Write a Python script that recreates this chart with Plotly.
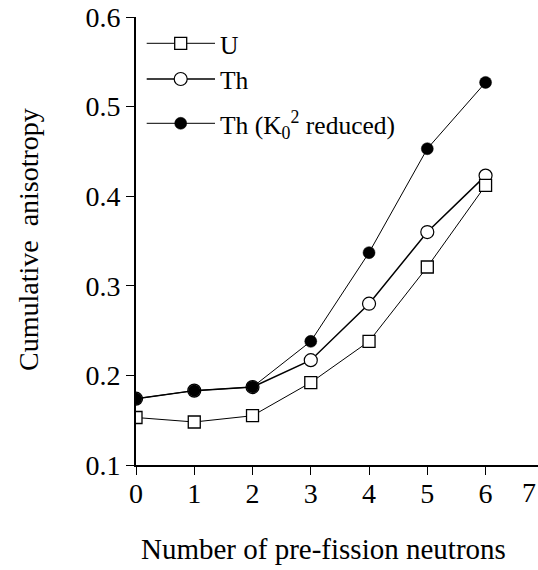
import plotly.graph_objects as go

# Number of pre-fission neutrons
neutrons = [0, 1, 2, 3, 4, 5, 6]

# Cumulative anisotropy for each system
aniso_u = [0.153, 0.148, 0.155, 0.192, 0.238, 0.321, 0.412]
aniso_th = [0.174, 0.183, 0.187, 0.217, 0.280, 0.360, 0.423]
aniso_th_k0 = [0.174, 0.183, 0.187, 0.238, 0.337, 0.453, 0.527]

x_ticks = [0, 1, 2, 3, 4, 5, 6]
y_ticks = [0.1, 0.2, 0.3, 0.4, 0.5, 0.6]

FONT = "Liberation Serif, Times New Roman, serif"

# plot-area geometry in pixels
W, H = 538, 570
ML, MR, MT, MB = 136, 0, 17, 105
PW, PH = W - ML - MR, H - MT - MB


def px_x(px):
    return (px - ML) / PW


def px_y(py):
    return 1 - (py - MT) / PH


# series styles
styles = {
    "U": dict(line=dict(color="black", width=1),
              marker=dict(symbol="square", size=12, color="white",
                          line=dict(color="black", width=1.3))),
    "Th": dict(line=dict(color="black", width=1.5),
               marker=dict(symbol="circle", size=13, color="white",
                           line=dict(color="black", width=1.2))),
    "ThK": dict(line=dict(color="black", width=1),
                marker=dict(symbol="circle", size=12, color="black",
                            line=dict(color="black", width=0.5))),
}

fig = go.Figure()

# Th first so that the filled circles and squares sit on top of it
fig.add_trace(go.Scatter(x=neutrons, y=aniso_th, mode="lines+markers",
                         showlegend=False, **styles["Th"]))
fig.add_trace(go.Scatter(x=neutrons, y=aniso_th_k0, mode="lines+markers",
                         showlegend=False, **styles["ThK"]))
fig.add_trace(go.Scatter(x=neutrons, y=aniso_u, mode="lines+markers",
                         showlegend=False, **styles["U"]))

# key drawn in the upper-left corner of the frame
legend_items = [
    ("U", "U", 43.3),
    ("Th", "Th", 79.0),
    ("ThK", "Th (K<sub>0</sub><sup>2</sup> reduced)", 123.3),
]
KEY_X0, KEY_XM, KEY_X1, KEY_TX = 146.7, 180.7, 215.0, 218.0
annotations = []
for key, label, ypx in legend_items:
    st = styles[key]
    fig.add_trace(go.Scatter(
        x=[px_x(KEY_X0), px_x(KEY_XM), px_x(KEY_X1)],
        y=[px_y(ypx)] * 3,
        xaxis="x3", yaxis="y3", mode="lines+markers", showlegend=False,
        hoverinfo="skip", line=st["line"],
        marker=dict(st["marker"], opacity=[0, 1, 0]),
    ))
    annotations.append(dict(
        xref="paper", yref="paper", x=px_x(KEY_TX), y=px_y(ypx + 2),
        xanchor="left", yanchor="middle", showarrow=False, text=label,
        font=dict(family=FONT, size=25.5, color="black"),
    ))

# axis titles
annotations.append(dict(
    xref="paper", yref="paper", x=px_x(323.5), y=px_y(549),
    xanchor="center", yanchor="middle", showarrow=False,
    text="Number of pre-fission neutrons",
    font=dict(family=FONT, size=29, color="black"),
))
annotations.append(dict(
    xref="paper", yref="paper", x=px_x(28), y=px_y(240),
    xanchor="center", yanchor="middle", showarrow=False, textangle=-90,
    text="Cumulative  anisotropy",
    font=dict(family=FONT, size=28, color="black"),
))
# last x tick label, at the clipped right edge of the frame
annotations.append(dict(
    xref="paper", yref="paper", x=1.0, y=px_y(492),
    xanchor="right", yanchor="middle", showarrow=False, text="7",
    font=dict(family=FONT, size=28, color="black"),
))

axis_common = dict(
    showgrid=False, zeroline=False, showline=True,
    linecolor="black", linewidth=1.6,
    tickcolor="black", tickwidth=1.3,
)

X_RANGE = [0, 6.9]
Y_RANGE = [0.1, 0.6]

fig.update_layout(
    width=W, height=H,
    margin=dict(l=ML, r=MR, t=MT, b=MB),
    paper_bgcolor="white", plot_bgcolor="white",
    font=dict(family=FONT, color="black", size=28),
    showlegend=False,
    annotations=annotations,
    xaxis=dict(
        range=X_RANGE, tickvals=x_ticks, ticktext=[str(v) for v in x_ticks],
        ticks="outside", ticklen=8, ticklabelstandoff=-5,
        tickfont=dict(family=FONT, size=28),
        **axis_common,
    ),
    yaxis=dict(
        range=Y_RANGE, tickvals=y_ticks,
        ticktext=[f"{v:.1f}" for v in y_ticks],
        ticks="outside", ticklen=8,
        tickfont=dict(family=FONT, size=28),
        **axis_common,
    ),
    # frame on the top and right with inward ticks
    xaxis2=dict(
        overlaying="x", side="top", anchor="y",
        range=X_RANGE, tickvals=x_ticks, showticklabels=False,
        ticks="inside", ticklen=7,
        **axis_common,
    ),
    yaxis2=dict(
        overlaying="y", side="right", anchor="x",
        range=Y_RANGE, tickvals=y_ticks, showticklabels=False,
        ticks="inside", ticklen=7,
        **axis_common,
    ),
    # unit axes used for the key glyphs
    xaxis3=dict(overlaying="x", range=[0, 1], visible=False),
    yaxis3=dict(overlaying="y", range=[0, 1], visible=False),
)

fig.write_html("out.html")
